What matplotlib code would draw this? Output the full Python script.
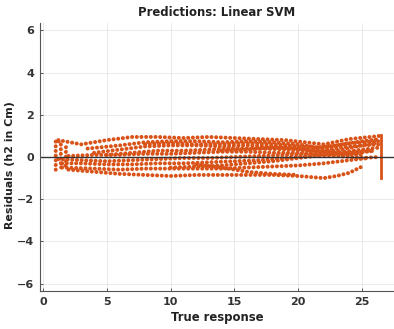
import matplotlib.pyplot as plt

# residual bands (x = true response, y = residual)
band1_x = [1.2, 3, 5, 7, 9, 11, 13, 15, 17, 19, 20.5, 22, 24, 26.4]
band1_y = [0.8, 0.6, 0.8, 0.95, 0.95, 0.9, 0.95, 0.9, 0.85, 0.8, 0.7, 0.6, 0.85, 1.0]
band2_x = [3.5, 6, 8, 10, 12, 14, 16, 18, 20, 21.5, 23, 25, 26.4]
band2_y = [0.4, 0.55, 0.7, 0.75, 0.75, 0.7, 0.75, 0.7, 0.6, 0.45, 0.55, 0.75, 0.85]
band3_x = [4, 6, 8, 10, 12, 14, 16, 18, 20, 22, 24, 26.4]
band3_y = [0.2, 0.35, 0.5, 0.55, 0.55, 0.5, 0.55, 0.5, 0.45, 0.35, 0.5, 0.6]
band4_x = [5, 7, 9, 11, 13, 15, 17, 19, 21, 23, 25, 26.4]
band4_y = [0.1, 0.2, 0.3, 0.3, 0.35, 0.4, 0.4, 0.35, 0.3, 0.2, 0.35, 0.45]
band5_x = [2, 4, 6, 8, 10, 12, 14, 16, 18, 20, 22, 24, 26]
band5_y = [0.05, 0.1, 0.1, 0.15, 0.15, 0.2, 0.25, 0.25, 0.2, 0.2, 0.1, 0.15, 0.3]
band6_x = [1.2, 3, 5, 7, 9, 11, 13, 15, 17, 19, 21, 23, 25, 26.3]
band6_y = [-0.1, -0.15, -0.2, -0.15, -0.1, -0.05, -0.05, 0.0, 0.05, 0.1, 0.15, 0.05, -0.05, 0.0]
band7_x = [1.5, 3, 5, 7, 9, 11, 13, 15, 17, 19, 21, 23, 25]
band7_y = [-0.3, -0.3, -0.35, -0.35, -0.3, -0.3, -0.25, -0.2, -0.15, -0.05, 0.05, 0.15, 0.1]
band8_x = [10, 12, 14, 16, 18, 20, 22, 24, 26]
band8_y = [-0.5, -0.45, -0.4, -0.3, -0.2, -0.05, 0.1, 0.2, 0.3]
band9_x = [1.5, 4, 6, 8, 10, 12, 14, 16, 18, 20, 22, 24, 25.5]
band9_y = [-0.5, -0.55, -0.6, -0.55, -0.55, -0.55, -0.55, -0.5, -0.45, -0.4, -0.3, -0.15, -0.05]
band10_x = [2, 4, 6, 8, 10, 12, 14, 16, 18, 20, 21, 22, 23, 24, 25]
band10_y = [-0.6, -0.7, -0.8, -0.85, -0.9, -0.85, -0.85, -0.85, -0.85, -0.9, -0.95, -1.0, -0.9, -0.75, -0.45]
band11_x = [12, 14, 16, 18, 20]
band11_y = [-0.35, -0.5, -0.7, -0.8, -0.85]
band12_x = [8, 10, 12, 14, 16, 18, 20, 22, 24, 26.3]
band12_y = [0.6, 0.65, 0.6, 0.6, 0.65, 0.6, 0.5, 0.45, 0.65, 0.75]
band13_x = [14, 16, 18, 20, 21.5, 23, 25, 26.3]
band13_y = [0.3, 0.35, 0.45, 0.4, 0.25, 0.3, 0.55, 0.7]
left_x = [1.0, 1.0, 1.4, 1.4, 1.8, 1.8]
left_y = [-0.6, 0.8, 0.7, -0.5, -0.4, 0.5]
right_x = [26.5, 26.5]
right_y = [-1.0, 1.05]

bands = [(band1_x, band1_y), (band2_x, band2_y), (band3_x, band3_y),
         (band4_x, band4_y), (band5_x, band5_y), (band6_x, band6_y),
         (band7_x, band7_y), (band8_x, band8_y), (band9_x, band9_y),
         (band10_x, band10_y), (band11_x, band11_y), (band12_x, band12_y),
         (band13_x, band13_y), (left_x, left_y)]

xticks = [0, 5, 10, 15, 20, 25]
yticks = [-6, -4, -2, 0, 2, 4, 6]

orange = '#D95319'
dark = '#333333'

fig = plt.figure(figsize=(3.94, 3.29), dpi=100)
ax = fig.add_axes([0.1003, 0.1155, 0.8997, 0.8146])

ax.grid(True, color='#e6e6e6', linewidth=0.6)
ax.set_axisbelow(True)

for bx, by in bands:
    ax.plot(bx, by, color=orange, linewidth=2.9, linestyle=(0, (0.01, 1.15)),
            dash_capstyle='round', solid_joinstyle='round')
ax.plot(right_x, right_y, color=orange, linewidth=2.0)

ax.axhline(0, color=dark, linewidth=1.0)

ax.set_xlim(-0.27, 27.5)
ax.set_ylim(-6.35, 6.35)
ax.set_xticks(xticks)
ax.set_yticks(yticks)

for s in ['top', 'right']:
    ax.spines[s].set_visible(False)
for s in ['left', 'bottom']:
    ax.spines[s].set_color('#555555')
    ax.spines[s].set_linewidth(0.8)

ax.tick_params(direction='in', length=2.5, width=0.7, color='#555555',
               labelsize=8, labelcolor=dark, pad=4)
for lab in ax.get_xticklabels() + ax.get_yticklabels():
    lab.set_fontweight('bold')

ax.set_title('Predictions: Linear SVM', fontsize=8.4, fontweight='bold',
             color='#222222', pad=5)
ax.set_xlabel('True response', fontsize=8.4, fontweight='bold', color='#222222',
              labelpad=3)
ax.set_ylabel('Residuals (h2 in Cm)', fontsize=7.9, fontweight='bold',
              color='#222222')
ax.yaxis.set_label_coords(-0.068, 0.47)

fig.savefig('out.png', dpi=100)
